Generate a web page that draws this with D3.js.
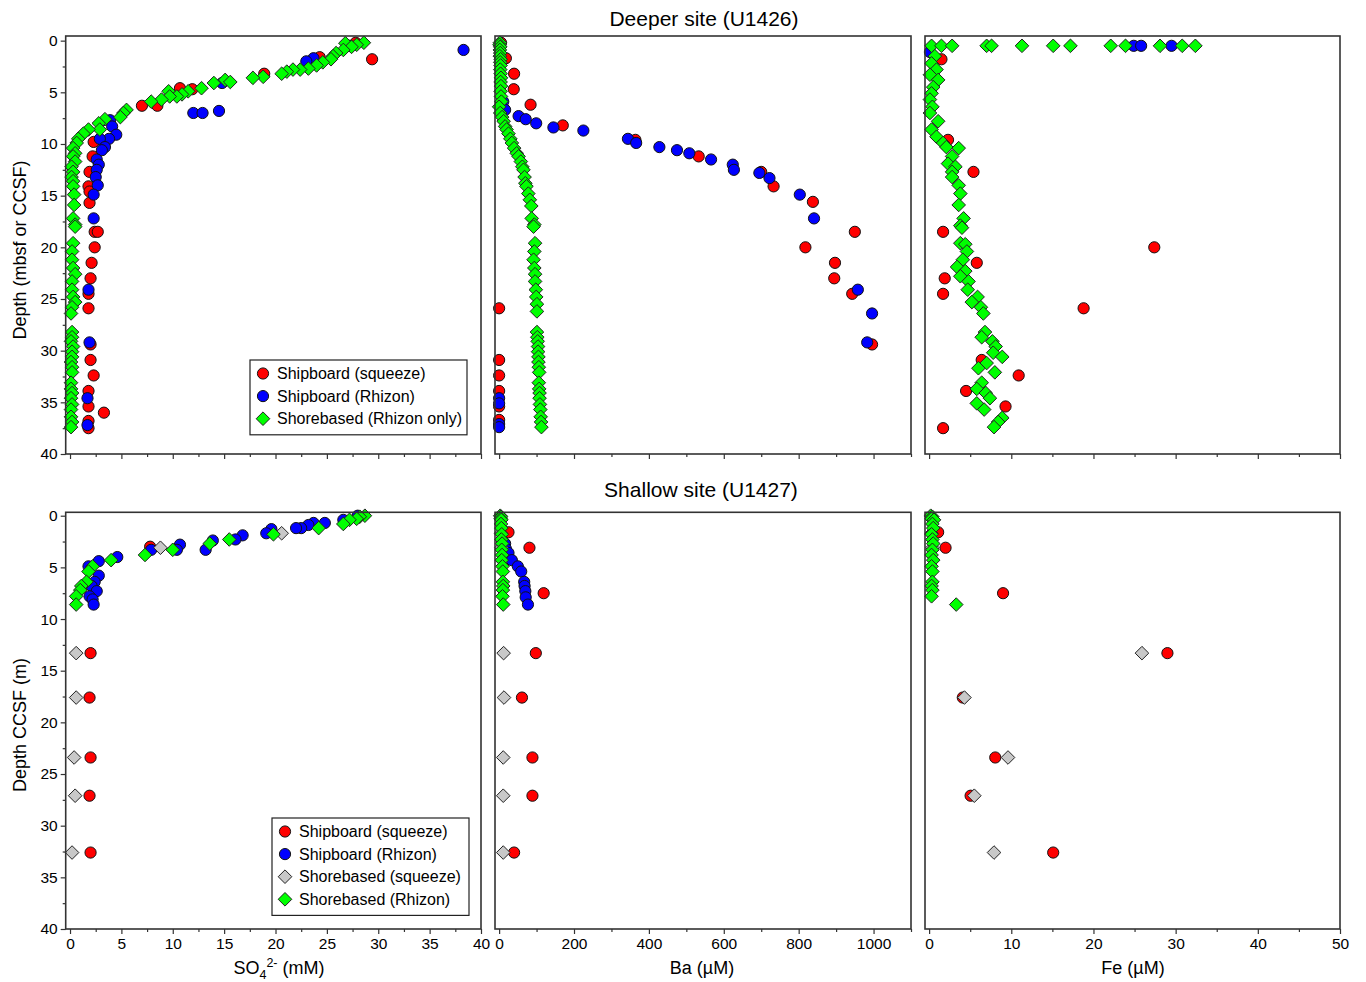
<!DOCTYPE html>
<html><head><meta charset="utf-8">
<script src="https://cdnjs.cloudflare.com/ajax/libs/d3/7.8.5/d3.min.js"></script>
<style>
body{margin:0;background:#fff}
svg{display:block}
text{font-family:"Liberation Sans",Arial,Helvetica,sans-serif;fill:#000}
</style>
</head><body>
<svg id="c" width="1366" height="982"></svg>
<script>
// ---------- DATA: [depth, value] ----------
// U1426 (deeper site)
const u1426_so4_squeeze = [[0.2,27.8],[1.6,24.3],[1.8,29.4],[3.2,18.9],[4.6,10.7],[4.7,11.9],[6.3,7.0],[6.3,8.5],[9.8,2.3],[11.2,2.2],[12.7,1.9],[14.1,1.8],[14.6,1.9],[15.7,1.9],[18.5,2.4],[18.5,2.7],[20.0,2.4],[21.5,2.1],[23.0,2.0],[24.5,1.8],[25.9,1.8],[29.4,2.0],[30.9,2.0],[32.4,2.3],[33.9,1.8],[35.4,1.8],[36.0,3.3],[36.8,1.8],[37.5,1.8]];
const u1426_so4_rhizon = [[0.5,27.2],[0.9,38.3],[1.7,23.7],[2.0,23.0],[4.1,14.8],[6.8,14.5],[7.0,12.0],[7.0,12.9],[7.7,3.9],[8.3,4.1],[9.1,4.5],[9.5,3.8],[9.5,2.9],[10.3,3.4],[10.6,3.1],[11.5,2.6],[12.0,2.8],[12.5,2.6],[13.2,2.5],[14.0,2.7],[14.9,2.3],[17.2,2.3],[24.1,1.8],[29.2,1.9],[34.6,1.7],[37.2,1.7]];
const u1426_so4_shore = [[0.2,28.6],[0.25,26.8],[0.4,27.9],[0.6,27.4],[0.9,26.6],[1.2,25.9],[1.5,25.6],[1.8,25.4],[2.1,24.6],[2.4,24.0],[2.7,23.2],[2.8,22.4],[2.8,21.7],[3.0,21.1],[3.2,20.6],[3.5,18.8],[3.6,17.8],[3.8,15.1],[4.0,15.6],[4.1,14.0],[4.6,12.8],[4.9,11.5],[4.9,9.6],[5.2,10.9],[5.4,10.4],[5.4,9.7],[5.7,8.9],[5.9,7.9],[6.7,5.5],[7.0,5.2],[7.4,4.9],[7.6,3.4],[8.0,2.8],[8.6,2.9],[8.6,1.8],[9.0,1.3],[9.5,0.8],[9.9,0.65],[10.4,0.3],[10.9,0.5],[11.2,0.3],[11.7,0.5],[12.2,0.15],[12.7,0.3],[13.2,0.15],[13.6,0.3],[14.1,0.3],[14.9,0.4],[15.9,0.4],[17.2,0.3],[17.8,0.5],[18.0,0.5],[19.6,0.3],[20.4,0.2],[21.2,0.2],[22.0,0.3],[22.6,0.5],[23.3,0.2],[24.1,0.2],[24.8,0.3],[25.3,0.5],[25.8,0.2],[26.4,0.1],[28.2,0.2],[28.7,0.2],[29.1,0.1],[29.6,0.3],[30.1,0.2],[30.6,0.2],[31.1,0.1],[31.6,0.2],[32.1,0.2],[33.1,0.1],[33.7,0.1],[34.1,0.2],[34.6,0.1],[35.2,0.2],[35.7,0.1],[36.4,0.1],[36.9,0.2],[37.4,0.1]];

const u1426_ba_squeeze = [[0.2,5],[1.7,18],[3.2,40],[4.7,39],[6.2,84],[8.2,170],[9.6,364],[11.2,533],[12.7,700],[14.1,733],[15.6,838],[18.5,950],[20.0,818],[21.5,897],[23.0,895],[24.5,943],[25.9,0],[29.4,996],[30.9,0],[32.4,0],[33.9,0],[35.4,0],[36.7,0]];
const u1426_ba_rhizon = [[0.6,3],[5.9,11],[6.7,16],[7.3,52],[7.6,71],[8.0,99],[8.4,145],[8.7,225],[9.5,344],[9.9,366],[10.3,428],[10.6,475],[10.9,508],[11.5,566],[12.0,624],[12.5,627],[12.8,695],[13.3,722],[14.9,803],[17.2,841],[24.1,958],[26.4,996],[29.2,983],[34.6,0],[35.1,0],[37.1,0],[37.4,0]];
const u1426_ba_shore = [[0.2,2],[0.4,1],[0.6,3],[0.9,2],[1.2,3],[1.5,2],[1.8,4],[2.1,3],[2.4,4],[2.8,3],[3.2,4],[3.6,5],[4.0,4],[4.4,5],[4.9,4],[5.4,5],[5.9,6],[6.4,0],[7.0,3],[7.4,8],[7.8,12],[8.3,16],[8.6,20],[9.0,25],[9.5,30],[9.9,34],[10.4,40],[10.9,47],[11.2,52],[11.7,58],[12.2,62],[12.5,65],[13.2,68],[13.8,70],[14.1,73],[14.8,78],[15.4,82],[16.0,86],[17.2,87],[17.8,94],[18.0,92],[19.6,96],[20.4,94],[21.2,92],[22.0,94],[22.6,96],[23.3,96],[24.1,98],[24.8,99],[25.5,101],[26.2,101],[28.2,101],[28.7,102],[29.1,103],[29.6,104],[30.1,104],[30.6,105],[31.1,105],[31.6,106],[32.1,107],[33.1,106],[33.7,107],[34.1,108],[34.6,108],[35.2,109],[35.7,110],[36.4,111],[36.9,112],[37.4,113]];

const u1426_fe_squeeze = [[1.8,1.5],[9.6,2.3],[12.7,5.4],[18.5,1.7],[20.0,27.4],[21.5,5.8],[23.0,1.9],[24.5,1.7],[25.9,18.8],[30.9,6.4],[32.4,10.9],[33.9,4.5],[35.4,9.3],[37.5,1.7]];
const u1426_fe_rhizon = [[1.1,0.1],[0.5,24.9],[0.5,25.8],[0.5,29.5]];
const u1426_fe_shore = [[0.5,0.3],[0.5,1.5],[0.5,2.8],[0.5,7.0],[0.5,7.6],[0.5,11.3],[0.5,15.1],[0.5,17.2],[0.5,22.1],[0.5,23.9],[0.5,28.1],[0.5,30.8],[0.5,32.4],[1.5,0.7],[2.2,0.3],[2.8,0.9],[3.3,0.1],[3.8,1.1],[4.5,0.5],[5.1,0.3],[5.7,0.1],[6.4,0.4],[7.0,0.1],[7.8,1.1],[8.6,0.3],[9.3,0.9],[9.9,1.7],[10.3,2.1],[10.4,3.6],[11.2,2.8],[11.9,2.3],[12.2,3.2],[12.7,2.8],[13.2,2.8],[14.0,3.6],[14.8,3.8],[15.9,3.6],[17.2,4.2],[17.9,3.8],[18.1,4.0],[19.6,3.8],[19.7,4.4],[20.4,4.6],[21.2,4.1],[21.9,3.4],[22.3,4.4],[22.8,3.8],[23.3,4.8],[24.1,4.7],[24.8,5.9],[25.3,5.2],[25.8,6.3],[26.4,6.6],[28.2,6.8],[28.7,6.4],[29.1,7.7],[29.6,8.1],[30.2,7.8],[30.6,8.9],[31.2,7.0],[31.7,6.0],[32.1,8.0],[33.1,6.4],[33.7,5.8],[34.1,6.9],[34.6,7.4],[35.1,5.8],[35.7,6.7],[36.5,8.9],[36.9,8.4],[37.4,7.9]];

// U1427 (shallow site)
const u1427_so4_squeeze = [[3.0,7.8],[13.3,2.0],[17.6,1.9],[23.4,2.0],[27.1,1.9],[32.6,2.0]];
const u1427_so4_rhizon = [[0.0,28.0],[0.4,26.6],[0.7,24.8],[0.7,23.7],[0.9,23.2],[1.2,22.5],[1.2,22.0],[1.3,19.6],[1.7,19.1],[1.9,16.8],[2.3,16.1],[2.4,13.9],[3.3,13.2],[2.8,10.7],[3.3,10.4],[3.3,7.9],[4.0,4.6],[4.4,2.8],[4.9,1.8],[5.8,2.8],[6.4,2.4],[6.8,2.1],[7.3,2.6],[7.8,1.9],[8.1,2.2],[8.6,2.3]];
const u1427_so4_shoreSqueeze = [[1.7,20.6],[3.1,8.8],[13.3,0.6],[17.6,0.6],[23.4,0.4],[27.1,0.5],[32.6,0.2]];
const u1427_so4_shoreRhizon = [[0.0,28.7],[0.1,28.2],[0.3,27.9],[0.4,27.2],[0.8,26.6],[1.2,24.2],[1.8,19.8],[2.3,15.5],[2.7,13.6],[3.3,10.0],[3.8,7.3],[4.3,4.0],[4.9,2.2],[5.4,1.8],[6.4,1.6],[6.8,1.1],[7.2,1.0],[7.8,0.6],[8.6,0.6]];

const u1427_ba_squeeze = [[1.6,25],[3.1,81],[7.5,119],[13.3,98],[17.6,61],[23.4,89],[27.1,89],[32.6,40]];
const u1427_ba_rhizon = [[2.7,16],[3.2,18],[3.6,25],[4.3,34],[4.9,50],[5.4,59],[6.4,67],[6.8,68],[7.3,70],[7.9,71],[8.6,77]];
const u1427_ba_shoreSqueeze = [[1.7,5],[3.1,6],[13.3,12],[17.6,13],[23.4,11],[27.1,11],[32.6,11]];
const u1427_ba_shoreRhizon = [[0.0,3],[0.1,5],[0.3,4],[0.4,6],[0.8,5],[1.2,6],[1.8,7],[2.3,6],[2.7,8],[3.3,7],[3.8,8],[4.3,7],[4.9,9],[5.4,10],[6.4,10],[6.8,11],[7.2,10],[7.8,9],[8.6,11]];

const u1427_fe_squeeze = [[1.6,1.1],[3.1,2.0],[7.5,9.0],[13.3,29.0],[17.6,4.1],[23.4,8.05],[27.1,5.05],[32.6,15.1]];
const u1427_fe_rhizon = [];
const u1427_fe_shoreSqueeze = [[1.7,0.3],[3.1,0.4],[13.3,25.9],[17.6,4.3],[23.4,9.6],[27.1,5.5],[32.6,7.9]];
const u1427_fe_shoreRhizon = [[0.0,0.2],[0.1,0.4],[0.3,0.3],[0.4,0.6],[0.8,0.4],[1.2,0.5],[1.8,0.3],[2.3,0.4],[2.7,0.5],[3.3,0.4],[3.8,0.3],[4.3,0.5],[4.9,0.3],[5.4,0.4],[6.4,0.4],[6.8,0.3],[7.2,0.4],[7.8,0.3],[8.6,3.3]];

// ticks
const depthMajor = [0,5,10,15,20,25,30,35,40];
const depthMinor = [2.5,7.5,12.5,17.5,22.5,27.5,32.5,37.5];
const so4Major = [0,5,10,15,20,25,30,35,40];
const so4Minor = [2.5,7.5,12.5,17.5,22.5,27.5,32.5,37.5];
const baMajor = [0,200,400,600,800,1000];
const baMinor = [100,300,500,700,900,1100];
const feMajor = [0,10,20,30,40,50];
const feMinor = [5,15,25,35,45];

const titles = ["Deeper site (U1426)", "Shallow site (U1427)"];
const legendTop = ["Shipboard (squeeze)", "Shipboard (Rhizon)", "Shorebased (Rhizon only)"];
const legendBot = ["Shipboard (squeeze)", "Shipboard (Rhizon)", "Shorebased (squeeze)", "Shorebased (Rhizon)"];

// ---------- STYLE ----------
const COL = {squeeze:"#ff0000", rhizon:"#0000ff", shoreSqueeze:"#c8c8c8", shore:"#00ff00"};
const SHAPE = {squeeze:"circle", rhizon:"circle", shoreSqueeze:"diamond", shore:"diamond"};
const R = 5.6, DS = 6.8;

const svg = d3.select("#c");

// scales
const xSO4 = d3.scaleLinear().domain([-0.42,40]).range([65.7,481]);
const xBa  = d3.scaleLinear().domain([-11,1100]).range([495,911]);
const xFe  = d3.scaleLinear().domain([-0.5,50]).range([925,1340]);
const yTop = d3.scaleLinear().domain([-0.45,40]).range([36,454]);
const yBot = d3.scaleLinear().domain([-0.33,40]).range([512.3,929]);

function diamondPath(s){ return `M0,${-s}L${s},0L0,${s}L${-s},0Z`; }

function drawMarker(g, kind, cx, cy){
  if (SHAPE[kind]==="circle"){
    g.append("circle").attr("cx",cx).attr("cy",cy).attr("r",R)
      .attr("fill",COL[kind]).attr("stroke","#111").attr("stroke-width",1);
  } else {
    g.append("path").attr("d",diamondPath(DS)).attr("transform",`translate(${cx},${cy})`)
      .attr("fill",COL[kind]).attr("stroke","#222").attr("stroke-width",1);
  }
}

function drawSeries(x, y, data, kind){
  const g = svg.append("g");
  data.forEach(d => drawMarker(g, kind, x(d[1]), y(d[0])));
}

function styleAxis(sel, fs){
  sel.select(".domain").remove();
  sel.selectAll("line").attr("stroke","#333").attr("stroke-width",1.2);
  sel.selectAll("text").attr("font-size",fs).attr("font-family",'"Liberation Sans",Arial,sans-serif').attr("fill","#000");
}

function frame(x, y){
  svg.append("rect").attr("x",x.range()[0]).attr("y",y.range()[0])
    .attr("width",x.range()[1]-x.range()[0]).attr("height",y.range()[1]-y.range()[0])
    .attr("fill","none").attr("stroke","#333").attr("stroke-width",1.6);
}

function xAxes(x, y, major, minor, labels){
  const yPos = y.range()[1];
  svg.append("g").attr("transform",`translate(0,${yPos})`)
    .call(d3.axisBottom(x).tickValues(minor).tickSize(3).tickFormat(""))
    .call(s=>styleAxis(s,15.5));
  svg.append("g").attr("transform",`translate(0,${yPos})`)
    .call(d3.axisBottom(x).tickValues(major).tickSize(5).tickPadding(4).tickFormat(labels? d3.format("d") : ""))
    .call(s=>styleAxis(s,15.5));
}
function yAxes(x, y){
  const xPos = x.range()[0];
  svg.append("g").attr("transform",`translate(${xPos},0)`)
    .call(d3.axisLeft(y).tickValues(depthMinor).tickSize(3).tickFormat(""))
    .call(s=>styleAxis(s,15.5));
  svg.append("g").attr("transform",`translate(${xPos},0)`)
    .call(d3.axisLeft(y).tickValues(depthMajor).tickSize(5).tickPadding(3).tickFormat(d3.format("d")))
    .call(s=>styleAxis(s,15.5));
}

// frames & axes
[[xSO4,so4Major,so4Minor],[xBa,baMajor,baMinor],[xFe,feMajor,feMinor]].forEach(([x,maj,min])=>{
  xAxes(x, yTop, maj, min, false);
  xAxes(x, yBot, maj, min, true);
});
yAxes(xSO4, yTop);
yAxes(xSO4, yBot);

// data: top row
const topPanels = [
  [xSO4, u1426_so4_squeeze, u1426_so4_rhizon, u1426_so4_shore],
  [xBa,  u1426_ba_squeeze,  u1426_ba_rhizon,  u1426_ba_shore],
  [xFe,  u1426_fe_squeeze,  u1426_fe_rhizon,  u1426_fe_shore]
];
topPanels.forEach(([x,sq,rh,sh])=>{
  drawSeries(x,yTop,sq,"squeeze");
  drawSeries(x,yTop,rh,"rhizon");
  drawSeries(x,yTop,sh,"shore");
});
const botPanels = [
  [xSO4, u1427_so4_squeeze, u1427_so4_rhizon, u1427_so4_shoreSqueeze, u1427_so4_shoreRhizon],
  [xBa,  u1427_ba_squeeze,  u1427_ba_rhizon,  u1427_ba_shoreSqueeze,  u1427_ba_shoreRhizon],
  [xFe,  u1427_fe_squeeze,  u1427_fe_rhizon,  u1427_fe_shoreSqueeze,  u1427_fe_shoreRhizon]
];
botPanels.forEach(([x,sq,rh,ss,sr])=>{
  drawSeries(x,yBot,sq,"squeeze");
  drawSeries(x,yBot,rh,"rhizon");
  drawSeries(x,yBot,ss,"shoreSqueeze");
  drawSeries(x,yBot,sr,"shore");
});

[xSO4,xBa,xFe].forEach(x=>{ frame(x,yTop); frame(x,yBot); });

// titles
svg.append("text").attr("x",704).attr("y",26).attr("text-anchor","middle").attr("font-size",21).text(titles[0]);
svg.append("text").attr("x",701).attr("y",497).attr("text-anchor","middle").attr("font-size",21).text(titles[1]);

// y labels
svg.append("text").attr("transform","translate(26,250) rotate(-90)").attr("text-anchor","middle").attr("font-size",18).text("Depth (mbsf or CCSF)");
svg.append("text").attr("transform","translate(26,725) rotate(-90)").attr("text-anchor","middle").attr("font-size",18).text("Depth CCSF (m)");

// x labels
const so4Lab = svg.append("text").attr("x",279).attr("y",974).attr("text-anchor","middle").attr("font-size",18);
so4Lab.append("tspan").text("SO");
so4Lab.append("tspan").attr("dy",5).attr("font-size",12.5).text("4");
so4Lab.append("tspan").attr("dy",-12).attr("font-size",12.5).text("2-");
so4Lab.append("tspan").attr("dy",7).text(" (mM)");
svg.append("text").attr("x",702).attr("y",974).attr("text-anchor","middle").attr("font-size",18).text("Ba (\u00B5M)");
svg.append("text").attr("x",1133).attr("y",974).attr("text-anchor","middle").attr("font-size",18).text("Fe (\u00B5M)");

// legends
function legend(x0, y0, w, items, kinds){
  const rowH = 22.6;
  const h = rowH*items.length + 7;
  svg.append("rect").attr("x",x0).attr("y",y0).attr("width",w).attr("height",h)
    .attr("fill","#fff").attr("stroke","#222").attr("stroke-width",1.2);
  const g = svg.append("g");
  items.forEach((t,i)=>{
    const cy = y0 + 13.5 + i*rowH;
    drawMarker(g, kinds[i], x0+13, cy);
    g.append("text").attr("x",x0+27).attr("y",cy+5.5).attr("font-size",16).text(t);
  });
}
legend(250, 360, 217, legendTop, ["squeeze","rhizon","shore"]);
legend(272, 818, 197, legendBot, ["squeeze","rhizon","shoreSqueeze","shore"]);
</script>
</body></html>
